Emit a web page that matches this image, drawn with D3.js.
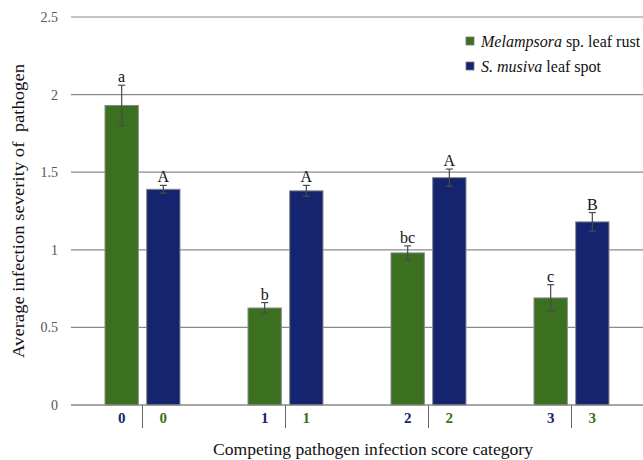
<!DOCTYPE html>
<html><head><meta charset="utf-8">
<script src="https://cdn.jsdelivr.net/npm/d3@7"></script>
<style>body{margin:0;background:#fff}svg{display:block}</style>
</head><body><svg id="c" width="643" height="460" font-family="'Liberation Serif', 'Times New Roman', Times, 'DejaVu Serif', serif"></svg>
<script>
const categories = ["0","1","2","3"];
const seriesNames = ["Melampsora sp. leaf rust","S. musiva leaf spot"];
const melampsora = [1.93, 0.625, 0.98, 0.69];
const melampsoraErr = [0.13, 0.035, 0.045, 0.085];
const musiva = [1.39, 1.38, 1.465, 1.18];
const musivaErr = [0.025, 0.035, 0.055, 0.06];
const melLetters = ["a","b","bc","c"];
const musLetters = ["A","A","A","B"];
const yTicks = [0,0.5,1,1.5,2,2.5];
const colors = ["#3a7020","#14246e"];

const svg = d3.select("#c");
const L = 71, R = 643, T = 17, B = 405;
const x0 = d3.scaleBand().domain(categories).range([L,R]).padding(0);
const x1 = d3.scaleBand().domain([0,1]).range([34,109]).paddingInner(0.2).paddingOuter(0);
const y = d3.scaleLinear().domain([0,2.5]).range([B,T]);

svg.append("g").selectAll("line").data(yTicks).join("line")
  .attr("x1",L).attr("x2",R).attr("y1",d=>y(d)).attr("y2",d=>y(d))
  .attr("stroke","#8a8a8a").attr("stroke-width",1.2);
svg.append("g").selectAll("text").data(yTicks).join("text")
  .attr("x",58).attr("y",d=>y(d)+5).attr("text-anchor","end")
  .attr("font-size",14).attr("fill","#555").text(d=>d);

const data = [];
categories.forEach((c,i)=>{
  data.push({c,s:0,v:melampsora[i],e:melampsoraErr[i],l:melLetters[i]});
  data.push({c,s:1,v:musiva[i],e:musivaErr[i],l:musLetters[i]});
});
const g = svg.append("g");
g.selectAll("rect").data(data).join("rect")
  .attr("x",d=>x0(d.c)+x1(d.s)).attr("width",x1.bandwidth())
  .attr("y",d=>y(d.v)).attr("height",d=>B-y(d.v))
  .attr("fill",d=>colors[d.s]).attr("stroke","#8a8a8a").attr("stroke-width",1);
svg.append("line").attr("x1",L).attr("x2",R).attr("y1",B).attr("y2",B).attr("stroke","#8a8a8a").attr("stroke-width",1.2);
const cx = d=>x0(d.c)+x1(d.s)+x1.bandwidth()/2;
const eb = g.selectAll("g.eb").data(data).join("g").attr("class","eb");
eb.append("line").attr("x1",cx).attr("x2",cx).attr("y1",d=>y(d.v+d.e)).attr("y2",d=>y(d.v-d.e)).attr("stroke","#4a4a4a").attr("stroke-width",1.2);
eb.append("line").attr("x1",d=>cx(d)-3.5).attr("x2",d=>cx(d)+3.5).attr("y1",d=>y(d.v+d.e)).attr("y2",d=>y(d.v+d.e)).attr("stroke","#4a4a4a").attr("stroke-width",1.2);
eb.append("line").attr("x1",d=>cx(d)-3.5).attr("x2",d=>cx(d)+3.5).attr("y1",d=>y(d.v-d.e)).attr("y2",d=>y(d.v-d.e)).attr("stroke","#4a4a4a").attr("stroke-width",1.2);
g.selectAll("text.lt").data(data).join("text").attr("class","lt")
  .attr("x",cx).attr("y",d=>y(d.v+d.e)-3).attr("text-anchor","middle")
  .attr("font-size",16).attr("fill","#111").text(d=>d.l);
const cl = svg.append("g");
categories.forEach(c=>{
  [0,1].forEach(s=>{
    cl.append("text").attr("x",x0(c)+x1(s)+x1.bandwidth()/2).attr("y",423)
      .attr("text-anchor","middle").attr("font-size",15).attr("font-weight","bold")
      .attr("fill",colors[1-s]).text(c);
  });
  const sx = x0(c)+ (x1(0)+x1.bandwidth()+x1(1))/2;
  cl.append("line").attr("x1",sx).attr("x2",sx).attr("y1",B).attr("y2",428).attr("stroke","#666").attr("stroke-width",1);
});
svg.append("text").attr("x",213).attr("y",455).attr("font-size",17).attr("fill","#111")
  .attr("textLength",320).attr("lengthAdjust","spacingAndGlyphs")
  .text("Competing pathogen infection score category");
svg.append("text").attr("transform","translate(24,358) rotate(-90)")
  .attr("font-size",17).attr("fill","#111").attr("xml:space","preserve").style("white-space","pre")
  .attr("textLength",294).attr("lengthAdjust","spacingAndGlyphs")
  .text("Average infection severity of  pathogen");
const leg = svg.append("g");
const legItems = [
  {parts:[["Melampsora",true],[" sp. leaf rust",false]]},
  {parts:[["S. musiva",true],[" leaf spot",false]]}
];
legItems.forEach((it,i)=>{
  const yy = 41 + i*25;
  leg.append("rect").attr("x",466).attr("y",yy-4).attr("width",8).attr("height",8).attr("fill",colors[i]).attr("stroke","#777").attr("stroke-width",0.8);
  const t = leg.append("text").attr("x",481).attr("y",yy+5.5).attr("font-size",16).attr("fill","#111").attr("xml:space","preserve").style("white-space","pre");
  it.parts.forEach(p=>t.append("tspan").attr("font-style",p[1]?"italic":"normal").text(p[0]));
});
</script></body></html>
